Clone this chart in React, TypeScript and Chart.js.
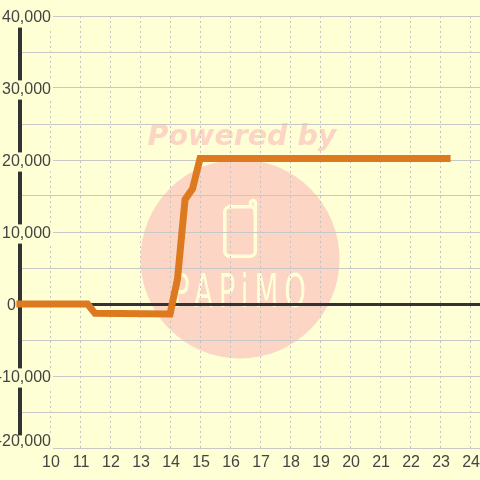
import React, { useEffect, useRef } from "react";
import { Chart, registerables } from "chart.js";

Chart.register(...registerables);

const xValues = [8.88, 11.25, 11.5, 14.0, 14.25, 14.5, 14.75, 15.0, 23.35];
const seriesValues = [0, 0, -1300, -1400, 3500, 14500, 16000, 20200, 20200];
const xTickValues = [10, 11, 12, 13, 14, 15, 16, 17, 18, 19, 20, 21, 22, 23, 24];
const xMin = 9;
const xMax = 24.33;
const yMin = -20000;
const yMax = 40000;
const watermarkTitle = "Powered by";
const watermarkBrand = "PAPiMO";

const watermark = {
  id: "watermark",
  beforeDraw(chart: any) {
    const c = chart.ctx;
    c.save();
    c.fillStyle = "#ffffd5";
    c.fillRect(0, 0, 480, 480);
    c.fillStyle = "#fcd5c5";
    c.beginPath();
    c.arc(240, 259, 99.5, 0, Math.PI * 2);
    c.fill();
    c.font = "italic bold 28.5px 'DejaVu Sans'";
    c.textAlign = "center";
    c.textBaseline = "alphabetic";
    c.fillText(watermarkTitle, 242, 145);
    c.strokeStyle = "#ffffd5";
    c.lineWidth = 3.5;
    c.beginPath();
    c.roundRect(224.8, 206.8, 30.5, 49.5, 5);
    c.stroke();
    c.beginPath();
    c.moveTo(250.5, 208);
    c.lineTo(250.5, 203);
    c.arc(253, 203, 2.4, Math.PI, 0);
    c.lineTo(255.3, 215);
    c.stroke();
    c.fillStyle = "#ffffd5";
    c.font = "46px 'DejaVu Sans'";
    c.textAlign = "left";
    c.translate(173, 307);
    c.scale(0.6, 1);
    (c as any).letterSpacing = "10px";
    c.fillText(watermarkBrand, 0, 0);
    (c as any).letterSpacing = "0px";
    c.restore();
  },
};

export default function App() {
  const ref = useRef<HTMLCanvasElement>(null);
  useEffect(() => {
    document.body.style.margin = "0";
    const chart = new Chart(ref.current!, {
      type: "line",
      data: {
        datasets: [
          {
            data: xValues.map((x, i) => ({ x, y: seriesValues[i] })),
            borderColor: "#dd7a20",
            borderWidth: 7,
            pointRadius: 0,
            tension: 0,
            clip: false as any,
            borderJoinStyle: "miter",
          },
        ],
      },
      plugins: [watermark],
      options: {
        animation: false,
        responsive: false,
        layout: { autoPadding: false, padding: { top: 16, left: 0, right: 0, bottom: 0 } },
        plugins: { legend: { display: false }, tooltip: { enabled: false } },
        scales: {
          x: {
            type: "linear",
            min: xMin,
            max: xMax,
            afterBuildTicks: (s: any) => {
              s.ticks = xTickValues.map((value) => ({ value }));
            },
            afterFit: (s: any) => {
              s.height = 32;
              s.paddingLeft = 0;
              s.paddingRight = 0;
            },
            border: { display: false, dash: [2, 3] },
            grid: { color: "#c4c4c4", lineWidth: 1, drawTicks: false },
            ticks: {
              autoSkip: false,
              maxRotation: 0,
              padding: 5,
              labelOffset: 1,
              z: 1,
              color: "#444444",
              font: { family: "'Liberation Sans'", size: 16 },
              callback: (v: any) => String(v),
            },
          },
          y: {
            min: yMin,
            max: yMax,
            afterFit: (s: any) => {
              s.width = 20;
              s._computeLabelArea = () => undefined;
              if (!s._wrappedItems) {
                s._wrappedItems = true;
                const base = s._computeLabelItems.bind(s);
                s._computeLabelItems = (area: any) => {
                  const items = base(area);
                  for (const item of items) {
                    if (item.label === "0") {
                      item.options.translation[0] -= 35;
                    } else if (item.label === "-20,000") {
                      item.textOffset -= 8;
                      item.options.backdrop.top -= 5;
                    }
                  }
                  return items;
                };
              }
            },
            border: { display: true, color: "#333333", width: 4 },
            grid: {
              drawTicks: false,
              color: (c: any) => (c.tick?.value === 0 ? "#333333" : "#c8c8c8"),
              lineWidth: (c: any) => (c.tick?.value === 0 ? 3 : 1),
            },
            ticks: {
              stepSize: 5000,
              autoSkip: false,
              padding: -31,
              labelOffset: 2,
              color: "#444444",
              font: { family: "'Liberation Sans'", size: 16 },
              showLabelBackdrop: true,
              backdropColor: (c: any) =>
                c.tick?.value !== 0 && c.tick?.value % 10000 === 0 ? "#ffffd5" : "rgba(0,0,0,0)",
              backdropPadding: { left: 2, right: 2, top: 0, bottom: 0 },
              callback: (v: any) => (v % 10000 !== 0 ? "" : Number(v).toLocaleString("en-US")),
            } as any,
          },
        } as any,
      },
    });
    return () => chart.destroy();
  }, []);
  return <canvas ref={ref} width={480} height={480} style={{ display: "block" }} />;
}
